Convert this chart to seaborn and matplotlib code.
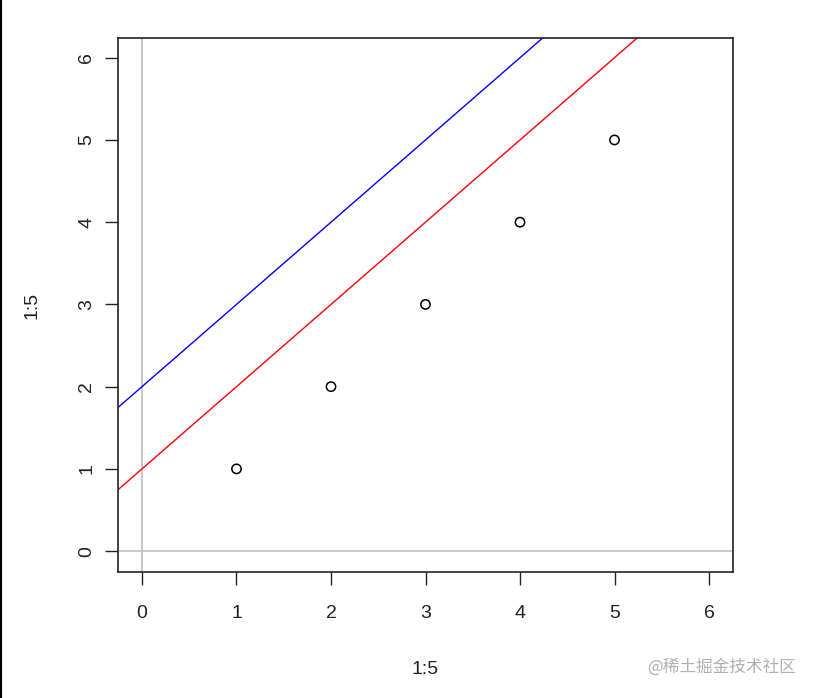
import numpy as np
import pandas as pd
import matplotlib
matplotlib.use('Agg')
import matplotlib.pyplot as plt
import seaborn as sns

# points from plot(1:5, 1:5)
x_vals = [1, 2, 3, 4, 5]
y_vals = [1, 2, 3, 4, 5]
# abline(a, b=1) lines
intercepts = [1, 2]
line_colors = ['red', 'blue']
ticks = [0, 1, 2, 3, 4, 5, 6]

df = pd.DataFrame({'x': x_vals, 'y': y_vals})

sns.set_style('ticks')
plt.rcParams['font.family'] = ['Liberation Sans', 'Noto Sans CJK SC', 'DejaVu Sans']

fig = plt.figure(figsize=(8.16, 6.98), dpi=100)
ax = fig.add_axes([0.1446, 0.1805, 0.7537, 0.7651])

# grey reference lines at 0
ax.axhline(0, color='#bebebe', lw=1.2, zorder=1)
ax.axvline(0, color='#bebebe', lw=1.2, zorder=1)

for a, c in zip(intercepts, line_colors):
    ax.axline((0, a), slope=1, color=c, lw=1, zorder=2)

sns.scatterplot(data=df, x='x', y='y', ax=ax, s=45, facecolor='none',
                edgecolor='black', linewidth=1.1, zorder=3)

ax.set_xlim(-0.254, 6.254)
ax.set_ylim(-0.254, 6.24)
ax.set_xticks(ticks)
ax.set_yticks(ticks)
ax.tick_params(direction='out', length=9.5, width=1, labelsize=14, pad=14, colors='#222222')
ax.tick_params(axis='y', labelrotation=90, pad=7)
for lab in ax.get_yticklabels():
    lab.set_va('center')
for sp in ax.spines.values():
    sp.set_color('#222222')
    sp.set_linewidth(1.2)
ax.set_xlabel('1:5', fontsize=14, labelpad=28, color='#222222')
ax.set_ylabel('1:5', fontsize=14, labelpad=27, color='#222222')

# screenshot border and watermark
fig.add_artist(plt.Line2D([0.0012, 0.0012], [0, 1], color='black', lw=1.5, transform=fig.transFigure))
fig.text(0.975, 0.045, '@稀土掘金技术社区', ha='right', va='center', fontsize=12,
         color='#b0b0b0', family=['Noto Sans CJK SC', 'DejaVu Sans'])

fig.savefig('out.png', dpi=100, facecolor='white')
